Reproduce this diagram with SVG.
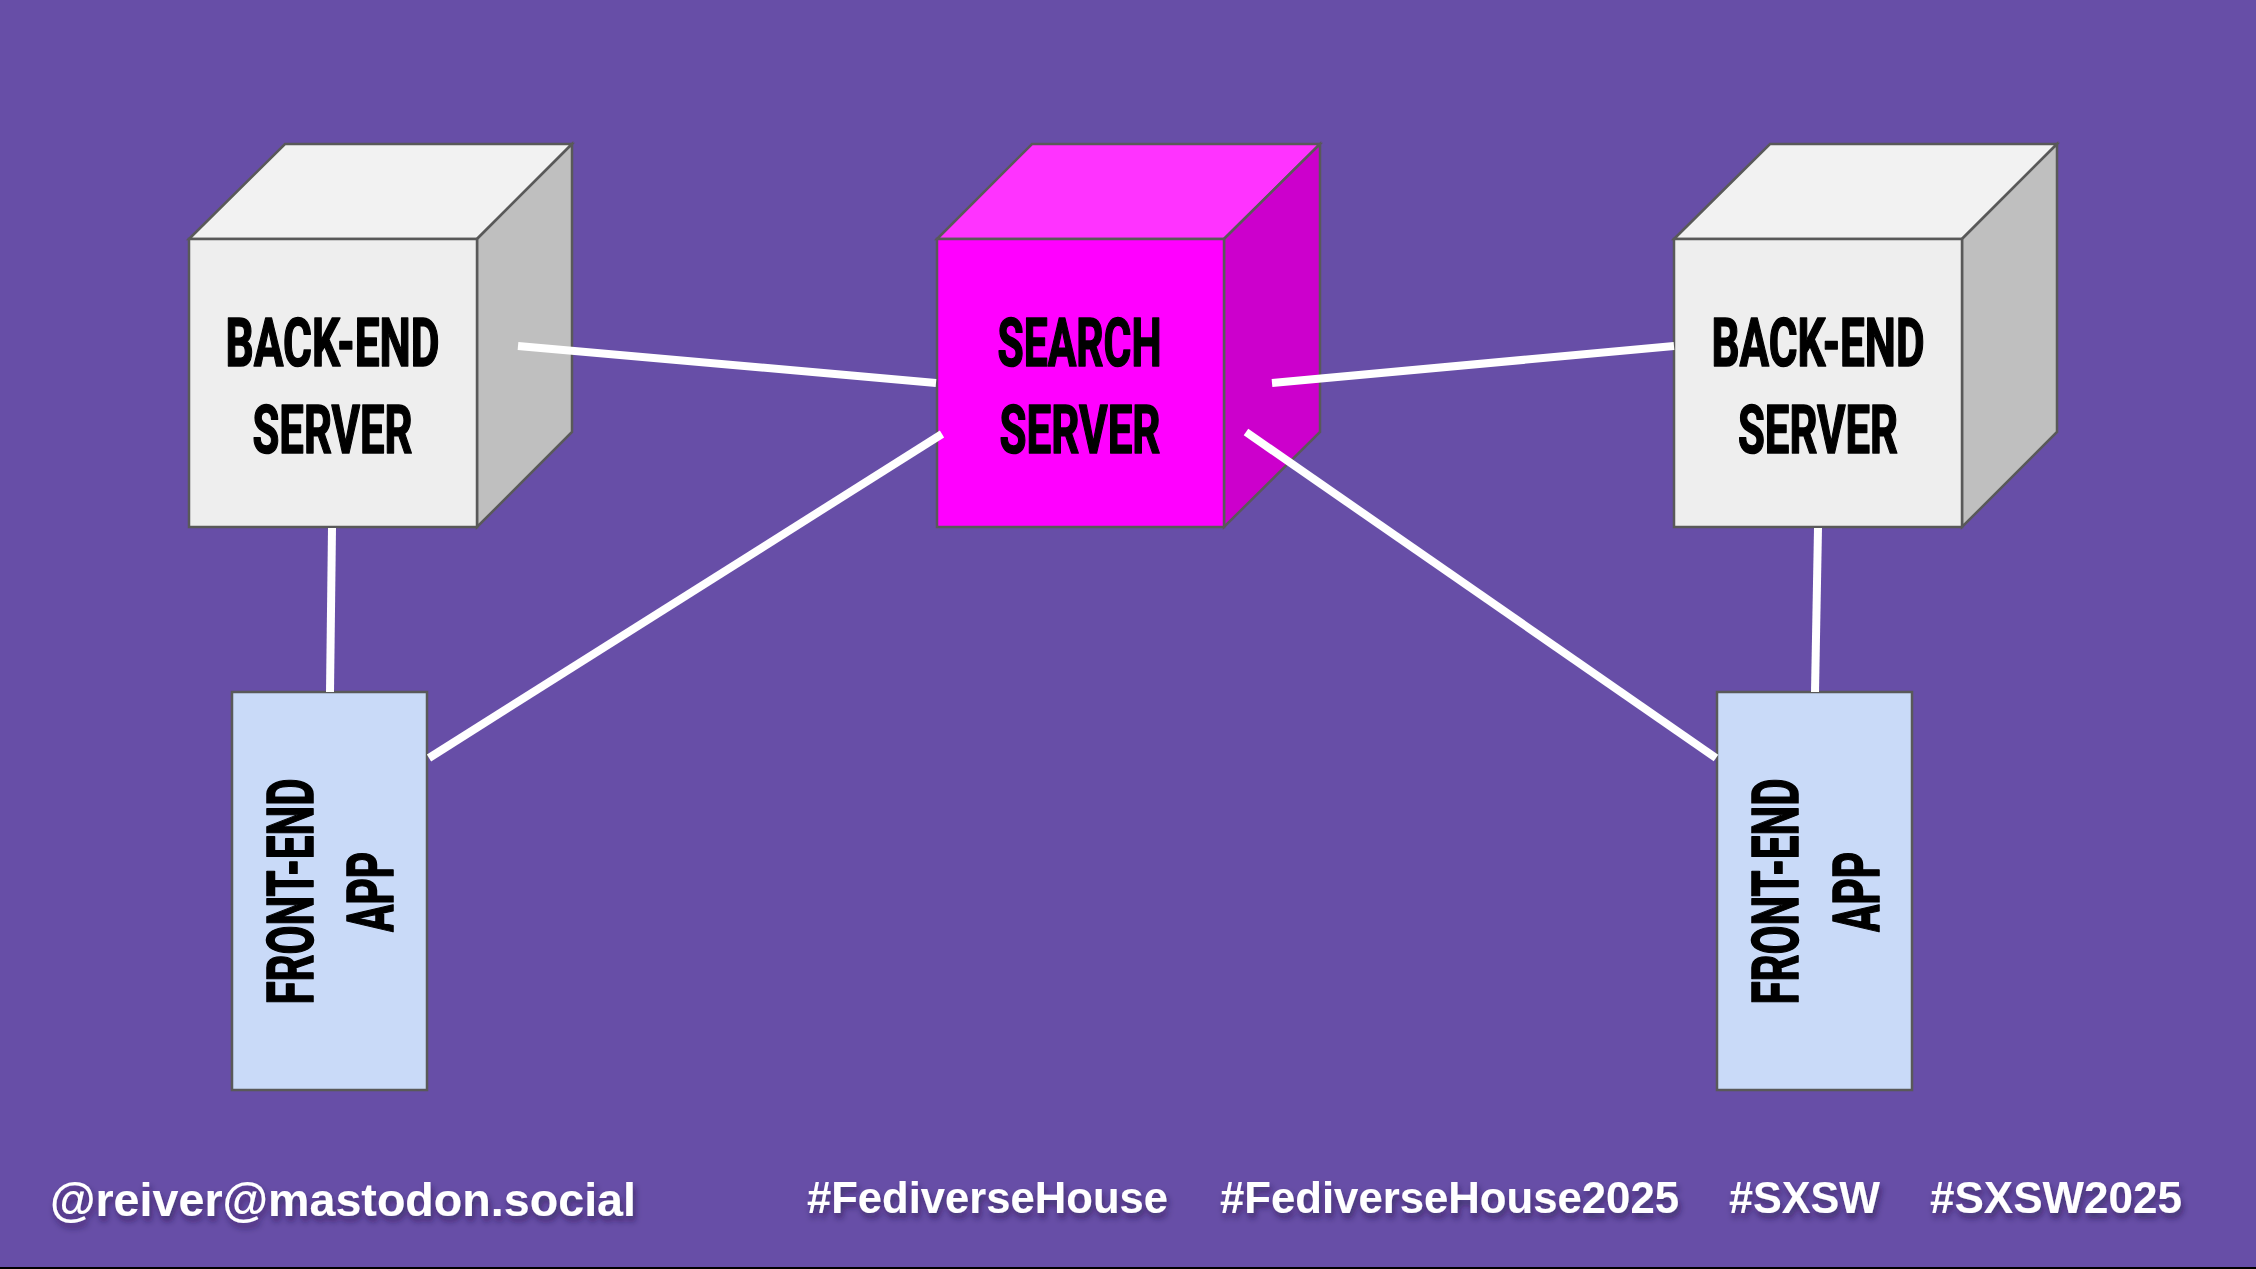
<svg xmlns="http://www.w3.org/2000/svg" width="2256" height="1269" viewBox="0 0 2256 1269">
  <defs>
    <style>
      .edge { stroke: #595959; stroke-width: 2.5; stroke-linejoin: miter; }
      .g-front { fill: #eeeeee; }
      .g-top { fill: #f2f2f2; }
      .g-side { fill: #bfbfbf; }
      .m-front { fill: #ff00ff; }
      .m-top { fill: #ff33ff; }
      .m-side { fill: #cc00cc; }
      .app { fill: #c9daf8; }
      .label { font-family: "Liberation Sans Narrow", "Roboto", "Liberation Sans", sans-serif; font-weight: 700; font-size: 67px; fill: #000000; stroke: #000000; stroke-width: 1.6; stroke-linejoin: round; text-anchor: middle; }
      .vlabel { font-size: 65px; }
      .link { stroke: #ffffff; stroke-width: 8; fill: none; stroke-linecap: butt; }
      .foot { font-family: "Liberation Sans", Arial, sans-serif; font-weight: 700; fill: #ffffff; }
    </style>
    <filter id="shadow" x="-5%" y="-30%" width="110%" height="180%">
      <feDropShadow dx="2" dy="5" stdDeviation="3" flood-color="#1a0f3a" flood-opacity="0.55"/>
    </filter>
  </defs>

  <!-- backdrop -->
  <rect x="0" y="0" width="2256" height="1269" fill="#674ea7"/>
  <rect x="0" y="1267" width="2256" height="2" fill="#000000"/>

  <!-- left back-end server cube -->
  <g id="backend-left">
    <polygon class="g-top edge" points="189,239 285,144 572,144 477,239"/>
    <polygon class="g-side edge" points="477,239 572,144 572,432 477,527"/>
    <rect class="g-front edge" x="189" y="239" width="288" height="288"/>
    <text class="label" x="332.5" y="366" textLength="214" lengthAdjust="spacingAndGlyphs">BACK-END</text>
    <text class="label" x="332.5" y="453" textLength="160" lengthAdjust="spacingAndGlyphs">SERVER</text>
  </g>

  <!-- search server cube -->
  <g id="search-server">
    <polygon class="m-top edge" points="937,239 1032,144 1320,144 1224,239"/>
    <polygon class="m-side edge" points="1224,239 1320,144 1320,432 1224,527"/>
    <rect class="m-front edge" x="937" y="239" width="287" height="288"/>
    <text class="label" x="1079.5" y="366" textLength="164" lengthAdjust="spacingAndGlyphs">SEARCH</text>
    <text class="label" x="1080" y="453" textLength="161" lengthAdjust="spacingAndGlyphs">SERVER</text>
  </g>

  <!-- right back-end server cube -->
  <g id="backend-right">
    <polygon class="g-top edge" points="1674,239 1770,144 2057,144 1962,239"/>
    <polygon class="g-side edge" points="1962,239 2057,144 2057,432 1962,527"/>
    <rect class="g-front edge" x="1674" y="239" width="288" height="288"/>
    <text class="label" x="1818" y="366" textLength="213" lengthAdjust="spacingAndGlyphs">BACK-END</text>
    <text class="label" x="1818" y="453" textLength="160" lengthAdjust="spacingAndGlyphs">SERVER</text>
  </g>

  <!-- left front-end app -->
  <g id="frontend-left">
    <rect class="app edge" x="232" y="692" width="195" height="398"/>
    <text class="label vlabel" transform="translate(313,891.5) rotate(-90)" x="0" y="0" textLength="226" lengthAdjust="spacingAndGlyphs">FRONT-END</text>
    <text class="label vlabel" transform="translate(393,892) rotate(-90)" x="0" y="0" textLength="80" lengthAdjust="spacingAndGlyphs">APP</text>
  </g>

  <!-- right front-end app -->
  <g id="frontend-right">
    <rect class="app edge" x="1717" y="692" width="195" height="398"/>
    <text class="label vlabel" transform="translate(1798,891.5) rotate(-90)" x="0" y="0" textLength="226" lengthAdjust="spacingAndGlyphs">FRONT-END</text>
    <text class="label vlabel" transform="translate(1879,892) rotate(-90)" x="0" y="0" textLength="80" lengthAdjust="spacingAndGlyphs">APP</text>
  </g>

  <!-- links between the nodes -->
  <g id="connectors">
    <line class="link" x1="518" y1="346" x2="936" y2="383"/>
    <line class="link" x1="429" y1="758" x2="942" y2="434"/>
    <line class="link" x1="1272" y1="383" x2="1674" y2="346"/>
    <line class="link" x1="1246" y1="432" x2="1716" y2="758"/>
    <line class="link" x1="332" y1="528" x2="330" y2="692"/>
    <line class="link" x1="1818" y1="528" x2="1815" y2="692"/>
  </g>

  <!-- footer handles -->
  <g id="footer" filter="url(#shadow)">
    <text class="foot" x="50" y="1216" font-size="47" textLength="586" lengthAdjust="spacingAndGlyphs">@reiver@mastodon.social</text>
    <text class="foot" x="807" y="1213" font-size="44" textLength="361" lengthAdjust="spacingAndGlyphs">#FediverseHouse</text>
    <text class="foot" x="1220" y="1213" font-size="44" textLength="459" lengthAdjust="spacingAndGlyphs">#FediverseHouse2025</text>
    <text class="foot" x="1729" y="1213" font-size="44" textLength="151" lengthAdjust="spacingAndGlyphs">#SXSW</text>
    <text class="foot" x="1930" y="1213" font-size="44" textLength="252" lengthAdjust="spacingAndGlyphs">#SXSW2025</text>
  </g>
</svg>
